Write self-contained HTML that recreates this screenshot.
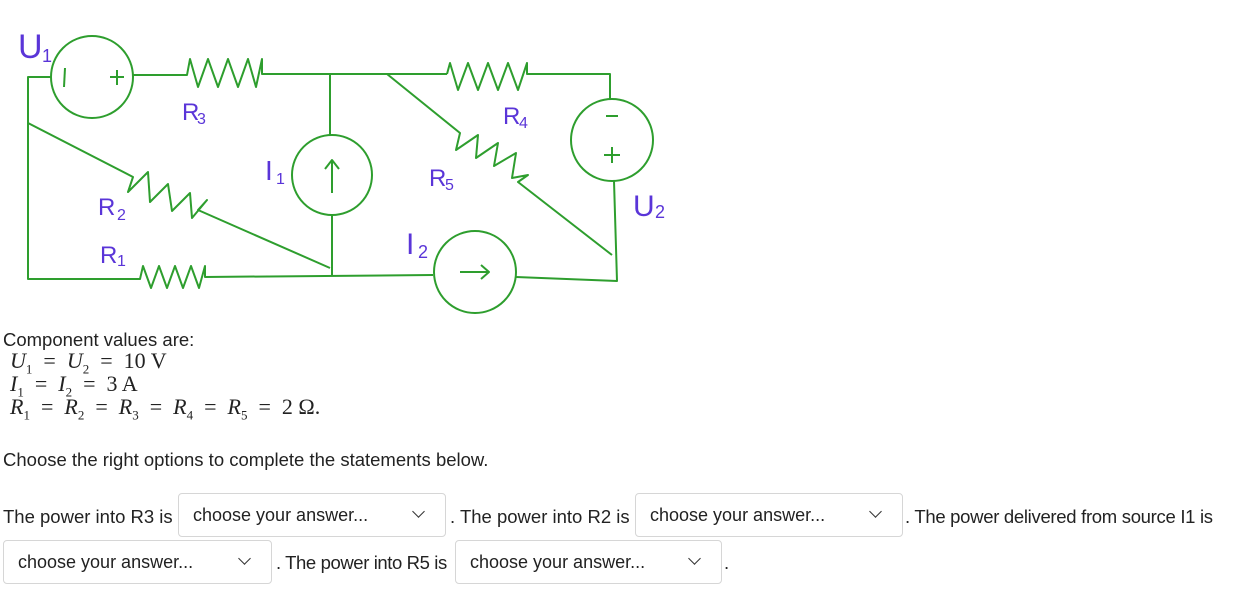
<!DOCTYPE html>
<html><head><meta charset="utf-8"><style>
body{margin:0;width:1239px;height:608px;background:#fff;font-family:"Liberation Sans",sans-serif;color:#222;position:relative;overflow:hidden}
.t{position:absolute;font-size:18.5px;white-space:nowrap}
.m{position:absolute;font-family:"Liberation Serif",serif;font-size:22px;white-space:nowrap;line-height:22px}
.m i{font-style:italic}
.m b{font-weight:normal;margin:0 11px}
.m sub{font-size:13px}
.sel{position:absolute;border:1px solid #d6d6d6;border-radius:4px;height:44px;box-sizing:border-box;font-size:18px;line-height:42px;padding-left:14px;color:#222}
.sel:after{content:"";position:absolute;right:22px;top:13px;width:8px;height:8px;border-right:1.5px solid #333;border-bottom:1.5px solid #333;transform:rotate(45deg)}
</style></head><body>
<svg width="1239" height="320" style="position:absolute;left:0;top:0" fill="none" stroke="#2e9e2e" stroke-width="2" stroke-linejoin="round">
<circle cx="92" cy="77" r="41"/>
<polyline points="51,77 28,77 28,279 140,279 143,266 151,288 159,266 167,288 175,266 183,288 191,266 199,288 205,266 205,277 433,275"/>
<polyline points="133,75 187,75 190,59 198,87 208,59 218,87 228,59 238,87 248,59 256,87 262,59 262,74 384,74 447,74"/>
<polyline points="447,74 450,63 458,90 468,63 478,90 488,63 498,90 508,63 518,90 527,63 527,74 610,74 610,99"/>
<circle cx="612" cy="140" r="41"/>
<polyline points="614,181 617,281 516,277"/>
<circle cx="332" cy="175" r="40"/>
<line x1="330" y1="74" x2="330" y2="135"/><line x1="332" y1="215" x2="332" y2="276"/>
<line x1="332" y1="193" x2="332" y2="160"/><polyline points="325,169 332,160 339,169"/>
<circle cx="475" cy="272" r="41"/>
<line x1="460" y1="272" x2="489" y2="272"/><polyline points="481,265 489,272 481,279"/>
<polyline points="28,123 133,177 128,192 148,172 150,202 168,184 172,211 190,193 192,218 207,200 198,210 330,268"/>
<polyline points="387,74 460,133 456,150 478,135 476,158 498,143 494,166 516,153 512,178 528,175 518,182 612,255"/>
<line x1="65" y1="68" x2="64" y2="87"/>
<line x1="110" y1="77" x2="124" y2="77"/><line x1="117" y1="70" x2="117" y2="85"/>
<line x1="606" y1="116" x2="618" y2="116"/>
<line x1="604" y1="155" x2="620" y2="155"/><line x1="612" y1="147" x2="612" y2="163"/>
</svg>
<svg width="1239" height="320" style="position:absolute;left:0;top:0" font-family="Liberation Sans,sans-serif" fill="#5a35d8">
<text x="18" y="58" font-size="34">U</text><text x="42" y="62" font-size="18">1</text>
<text x="182" y="120" font-size="24">R</text><text x="197" y="124" font-size="16">3</text>
<text x="265" y="180" font-size="28">I</text><text x="276" y="184" font-size="16">1</text>
<text x="98" y="215" font-size="24">R</text><text x="117" y="220" font-size="16">2</text>
<text x="100" y="263" font-size="24">R</text><text x="117" y="266" font-size="16">1</text>
<text x="429" y="186" font-size="24">R</text><text x="445" y="190" font-size="16">5</text>
<text x="503" y="124" font-size="24">R</text><text x="519" y="128" font-size="16">4</text>
<text x="633" y="216" font-size="30">U</text><text x="655" y="218" font-size="18">2</text>
<text x="406" y="254" font-size="30">I</text><text x="418" y="258" font-size="18">2</text>
</svg>
<div class="t" style="left:3px;top:329px">Component values are:</div>
<div class="m" style="left:10px;top:350px"><i>U</i><sub>1</sub><b>=</b><i>U</i><sub>2</sub><b>=</b>10 V</div>
<div class="m" style="left:10px;top:373px"><i>I</i><sub>1</sub><b>=</b><i>I</i><sub>2</sub><b>=</b>3 A</div>
<div class="m" style="left:10px;top:396px"><i>R</i><sub>1</sub><b>=</b><i>R</i><sub>2</sub><b>=</b><i>R</i><sub>3</sub><b>=</b><i>R</i><sub>4</sub><b>=</b><i>R</i><sub>5</sub><b>=</b>2 Ω.</div>
<div class="t" style="left:3px;top:449px">Choose the right options to complete the statements below.</div>
<div class="t" style="left:3px;top:506px">The power into R3 is</div>
<div class="sel" style="left:178px;top:493px;width:268px">choose your answer...</div>
<div class="t" style="left:450px;top:506px">. The power into R2 is</div>
<div class="sel" style="left:635px;top:493px;width:268px">choose your answer...</div>
<div class="t" style="left:905px;top:506px;letter-spacing:-0.3px">. The power delivered from source I1 is</div>
<div class="sel" style="left:3px;top:540px;width:269px">choose your answer...</div>
<div class="t" style="left:276px;top:552px;letter-spacing:-0.4px">. The power into R5 is</div>
<div class="sel" style="left:455px;top:540px;width:267px">choose your answer...</div>
<div class="t" style="left:724px;top:552px">.</div>
</body></html>
